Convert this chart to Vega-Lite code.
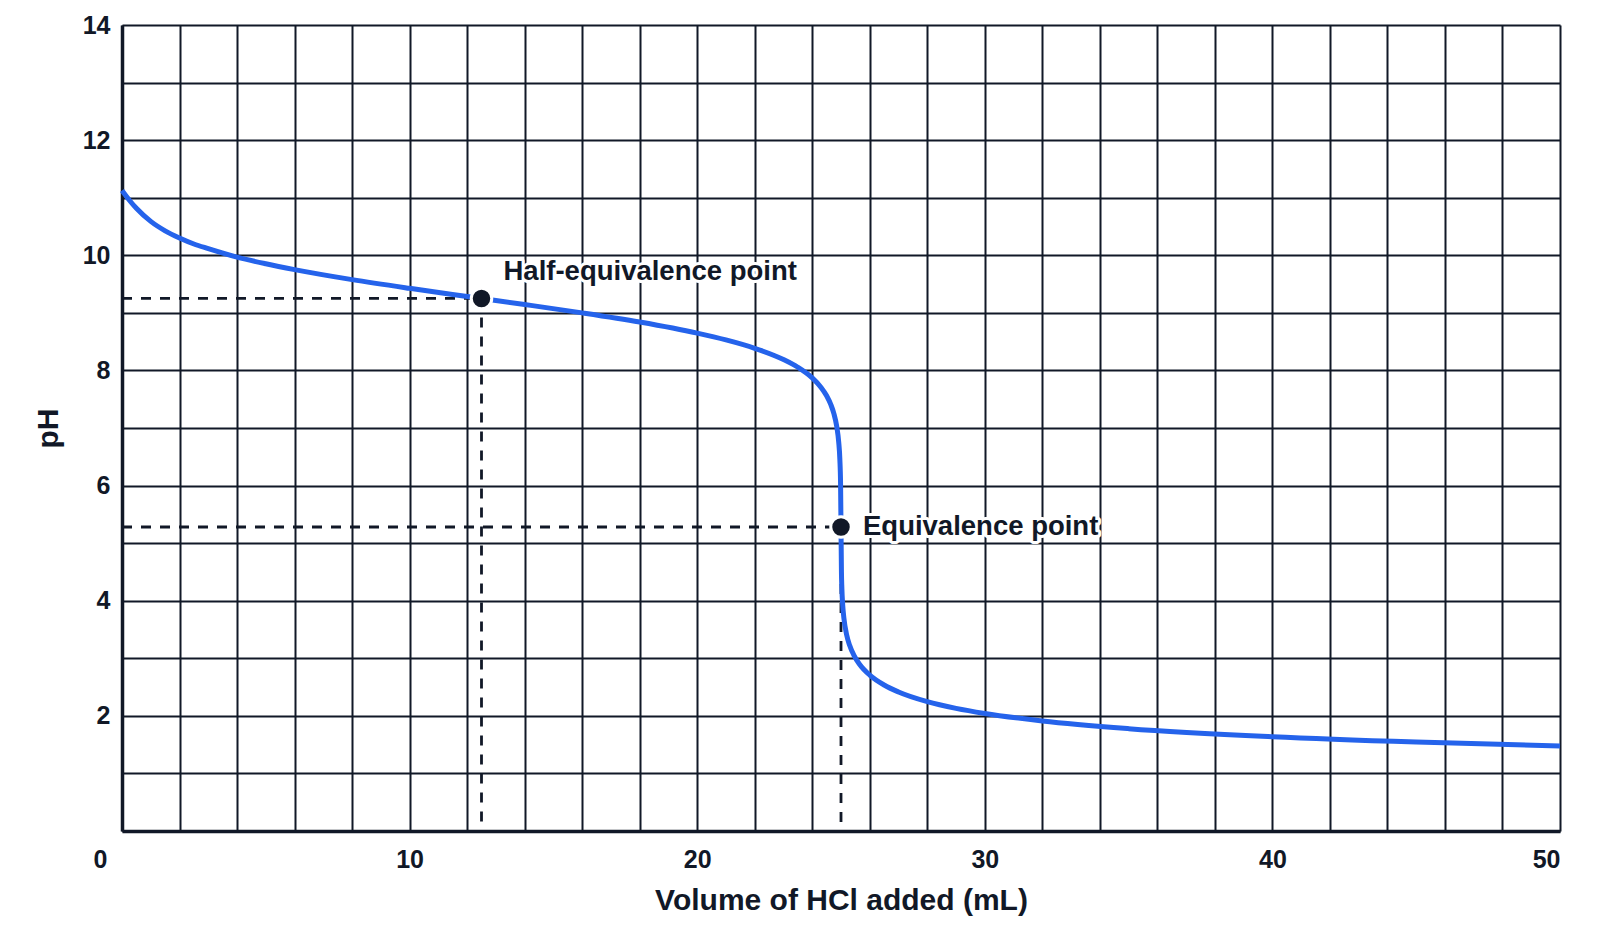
{
  "$schema": "https://vega.github.io/schema/vega-lite/v6.json",
  "width": 1438,
  "height": 806,
  "autosize": {"type": "none"},
  "padding": {"left": 122, "top": 25, "right": 40, "bottom": 120},
  "background": "white",
  "datasets": {
    "curve": [
      {"volume": 0, "pH": 11.125},
      {"volume": 0.25, "pH": 10.96},
      {"volume": 0.5, "pH": 10.816},
      {"volume": 1, "pH": 10.589},
      {"volume": 1.5, "pH": 10.425},
      {"volume": 2, "pH": 10.3},
      {"volume": 2.5, "pH": 10.196},
      {"volume": 3, "pH": 10.116},
      {"volume": 4, "pH": 9.968},
      {"volume": 5, "pH": 9.852},
      {"volume": 6, "pH": 9.751},
      {"volume": 8, "pH": 9.577},
      {"volume": 10, "pH": 9.426},
      {"volume": 12, "pH": 9.285},
      {"volume": 12.5, "pH": 9.25},
      {"volume": 14, "pH": 9.145},
      {"volume": 16, "pH": 9.0},
      {"volume": 18, "pH": 8.84},
      {"volume": 20, "pH": 8.648},
      {"volume": 21, "pH": 8.53},
      {"volume": 22, "pH": 8.385},
      {"volume": 23, "pH": 8.189},
      {"volume": 23.5, "pH": 8.055},
      {"volume": 24, "pH": 7.87},
      {"volume": 24.3, "pH": 7.709},
      {"volume": 24.5, "pH": 7.56},
      {"volume": 24.65, "pH": 7.402},
      {"volume": 24.75, "pH": 7.254},
      {"volume": 24.85, "pH": 7.031},
      {"volume": 24.92, "pH": 6.757},
      {"volume": 24.96, "pH": 6.455},
      {"volume": 24.985, "pH": 6.03},
      {"volume": 25, "pH": 5.28},
      {"volume": 25.015, "pH": 4.51},
      {"volume": 25.03, "pH": 4.22},
      {"volume": 25.06, "pH": 3.92},
      {"volume": 25.1, "pH": 3.7},
      {"volume": 25.2, "pH": 3.4},
      {"volume": 25.3, "pH": 3.225},
      {"volume": 25.45, "pH": 3.05},
      {"volume": 25.65, "pH": 2.892},
      {"volume": 26, "pH": 2.708},
      {"volume": 26.5, "pH": 2.536},
      {"volume": 27, "pH": 2.415},
      {"volume": 28, "pH": 2.247},
      {"volume": 29, "pH": 2.13},
      {"volume": 30, "pH": 2.041},
      {"volume": 32, "pH": 1.911},
      {"volume": 35, "pH": 1.778},
      {"volume": 40, "pH": 1.637},
      {"volume": 45, "pH": 1.544},
      {"volume": 50, "pH": 1.477}
    ],
    "guides": [
      {"volume": 0, "pH": 9.25, "volume2": 12.5, "pH2": 9.25},
      {"volume": 12.5, "pH": 9.25, "volume2": 12.5, "pH2": 0},
      {"volume": 0, "pH": 5.28, "volume2": 25, "pH2": 5.28},
      {"volume": 25, "pH": 5.28, "volume2": 25, "pH2": 0}
    ],
    "points": [
      {"volume": 12.5, "pH": 9.25, "label": "Half-equivalence point", "kind": "half"},
      {"volume": 25, "pH": 5.28, "label": "Equivalence point", "kind": "equiv"}
    ]
  },
  "layer": [
    {
      "data": {"name": "guides"},
      "mark": {"type": "rule", "color": "#111827", "strokeWidth": 2.8, "strokeDash": [10, 9]},
      "encoding": {
        "x": {
          "field": "volume",
          "type": "quantitative",
          "scale": {"domain": [0, 50], "nice": false},
          "axis": {
            "title": "Volume of HCl added (mL)",
            "values": [0, 2, 4, 6, 8, 10, 12, 14, 16, 18, 20, 22, 24, 26, 28, 30, 32, 34, 36, 38, 40, 42, 44, 46, 48, 50],
            "format": "d",
            "labelExpr": "datum.value % 10 === 0 ? datum.label : ''",
            "labelOffset": {"condition": {"test": "datum.value === 0", "value": -29}, "value": 0},
            "labelPadding": 16,
            "titlePadding": 13
          }
        },
        "y": {
          "field": "pH",
          "type": "quantitative",
          "scale": {"domain": [0, 14], "nice": false},
          "axis": {
            "title": "pH",
            "values": [0, 1, 2, 3, 4, 5, 6, 7, 8, 9, 10, 11, 12, 13, 14],
            "format": "d",
            "labelExpr": "datum.value % 2 === 0 && datum.value > 0 ? datum.label : ''",
            "labelPadding": 12,
            "titlePadding": 19
          }
        },
        "x2": {"field": "volume2"},
        "y2": {"field": "pH2"}
      }
    },
    {
      "data": {"name": "curve"},
      "mark": {"type": "line", "color": "#2563eb", "strokeWidth": 5, "interpolate": "monotone", "strokeJoin": "round"},
      "encoding": {
        "x": {"field": "volume", "type": "quantitative"},
        "y": {"field": "pH", "type": "quantitative"}
      }
    },
    {
      "data": {"name": "points"},
      "mark": {"type": "point", "shape": "circle", "filled": true, "fill": "#111827", "opacity": 1, "size": 420, "stroke": "white", "strokeWidth": 3},
      "encoding": {
        "x": {"field": "volume", "type": "quantitative"},
        "y": {"field": "pH", "type": "quantitative"}
      }
    },
    {
      "data": {"name": "points"},
      "transform": [{"filter": "datum.kind === 'half'"}],
      "mark": {"type": "text", "align": "left", "baseline": "middle", "dx": 22, "dy": -26, "fontSize": 27.5, "fontWeight": "bold", "font": "Liberation Sans", "stroke": "white", "strokeWidth": 6, "strokeJoin": "round", "fill": "white"},
      "encoding": {
        "x": {"field": "volume", "type": "quantitative"},
        "y": {"field": "pH", "type": "quantitative"},
        "text": {"field": "label"}
      }
    },
    {
      "data": {"name": "points"},
      "transform": [{"filter": "datum.kind === 'half'"}],
      "mark": {"type": "text", "align": "left", "baseline": "middle", "dx": 22, "dy": -26, "fontSize": 27.5, "fontWeight": "bold", "font": "Liberation Sans", "color": "#111827"},
      "encoding": {
        "x": {"field": "volume", "type": "quantitative"},
        "y": {"field": "pH", "type": "quantitative"},
        "text": {"field": "label"}
      }
    },
    {
      "data": {"name": "points"},
      "transform": [{"filter": "datum.kind === 'equiv'"}],
      "mark": {"type": "text", "align": "left", "baseline": "middle", "dx": 22, "dy": 0, "fontSize": 27.5, "fontWeight": "bold", "font": "Liberation Sans", "stroke": "white", "strokeWidth": 6, "strokeJoin": "round", "fill": "white"},
      "encoding": {
        "x": {"field": "volume", "type": "quantitative"},
        "y": {"field": "pH", "type": "quantitative"},
        "text": {"field": "label"}
      }
    },
    {
      "data": {"name": "points"},
      "transform": [{"filter": "datum.kind === 'equiv'"}],
      "mark": {"type": "text", "align": "left", "baseline": "middle", "dx": 22, "dy": 0, "fontSize": 27.5, "fontWeight": "bold", "font": "Liberation Sans", "color": "#111827"},
      "encoding": {
        "x": {"field": "volume", "type": "quantitative"},
        "y": {"field": "pH", "type": "quantitative"},
        "text": {"field": "label"}
      }
    }
  ],
  "config": {
    "view": {"stroke": null},
    "font": "Liberation Sans",
    "axis": {
      "ticks": false,
      "domain": true,
      "domainColor": "#111827",
      "domainWidth": 3.5,
      "grid": true,
      "gridColor": "#111827",
      "gridWidth": 2,
      "gridOpacity": 1,
      "labelFont": "Liberation Sans",
      "labelFontSize": 25,
      "labelFontWeight": "bold",
      "labelColor": "#111827",
      "titleFont": "Liberation Sans",
      "titleFontSize": 30,
      "titleFontWeight": "bold",
      "titleColor": "#111827"
    }
  }
}
